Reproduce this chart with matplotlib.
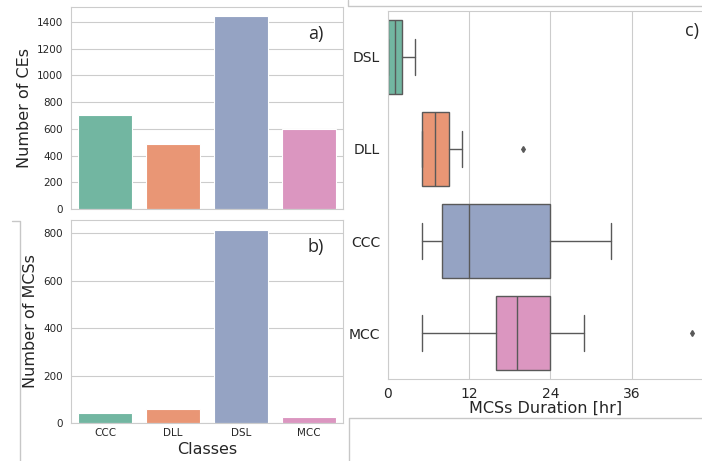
import numpy as np
import seaborn as sns
from matplotlib import pyplot as plt
from matplotlib.lines import Line2D

# data
classes = ["CCC", "DLL", "DSL", "MCC"]
n_ces = [700, 484, 1445, 598]
n_mcss = [42, 59, 812, 25]

# box plot stats (hours), order top -> bottom
box_classes = ["DSL", "DLL", "CCC", "MCC"]
whis_lo = [0, 5, 5, 5]
q1 = [0, 5, 8, 16]
med = [1, 7, 12, 19]
q3 = [2, 9, 24, 24]
whis_hi = [4, 11, 33, 29]
fliers = [[], [20], [], [45]]

sns.set_style("whitegrid")
pal = sns.color_palette("Set2", 4, desat=0.75)

W, H = 702, 461
fig = plt.figure(figsize=(W / 100, H / 100), dpi=100)

def rect(x0, y0, x1, y1):
    # pixel box -> figure fraction
    return [x0 / W, 1 - y1 / H, (x1 - x0) / W, (y1 - y0) / H]

ax_a = fig.add_axes(rect(71, 7, 343, 209))
ax_b = fig.add_axes(rect(71, 220, 343, 423))
ax_c = fig.add_axes(rect(388, 11, 704, 379))

x = np.arange(len(classes))
for ax, vals, top, lab in [(ax_a, n_ces, 1512, "Number of CEs"), (ax_b, n_mcss, 856, "Number of MCSs")]:
    ax.bar(x, vals, width=0.8, color=pal, edgecolor="white", linewidth=0.8, zorder=2)
    ax.set_xlim(-0.5, 3.5)
    ax.set_ylim(0, top)
    ax.set_ylabel(lab, fontsize=11.5, color="0.15", labelpad=4)
    ax.tick_params(axis="both", labelsize=7.5, colors="0.15", pad=2)
    ax.grid(axis="x", visible=False)
    for s in ax.spines.values():
        s.set_color("0.8")

ax_a.set_yticks(np.arange(0, 1401, 200))
ax_a.set_xticks(x)
ax_a.set_xticklabels([])
ax_b.set_yticks(np.arange(0, 801, 200))
ax_b.set_xticks(x)
ax_b.set_xticklabels(classes)
ax_b.tick_params(axis="x", pad=0)
ax_b.set_xlabel("Classes", fontsize=11.5, color="0.15", labelpad=3)

ax_a.text(0.90, 0.866, "a)", transform=ax_a.transAxes, fontsize=13, family="Open Sans", ha="center", va="center")
ax_b.text(0.90, 0.867, "b)", transform=ax_b.transAxes, fontsize=13, family="Open Sans", ha="center", va="center")

# box plot
stats = []
for i in range(len(box_classes)):
    stats.append(dict(whislo=whis_lo[i], q1=q1[i], med=med[i], q3=q3[i],
                      whishi=whis_hi[i], fliers=fliers[i], label=box_classes[i]))
bp = ax_c.bxp(stats, positions=np.arange(len(box_classes)), widths=0.8, vert=False,
              patch_artist=True, showfliers=True, manage_ticks=False,
              boxprops=dict(edgecolor="0.35", linewidth=1),
              medianprops=dict(color="0.35", linewidth=1),
              whiskerprops=dict(color="0.35", linewidth=1),
              capprops=dict(color="0.35", linewidth=1),
              flierprops=dict(marker="d", markersize=3, markerfacecolor="0.35", markeredgecolor="0.35"))
# seaborn colours boxes by position
for patch, c in zip(bp["boxes"], pal):
    patch.set_facecolor(c)
for cap in bp["caps"]:
    m = np.mean(cap.get_ydata())
    cap.set_ydata([m - 0.2, m + 0.2])

ax_c.set_ylim(3.5, -0.5)
ax_c.set_xlim(0, 46.7)
ax_c.set_yticks(np.arange(len(box_classes)))
ax_c.set_yticklabels(box_classes)
ax_c.set_xticks([0, 12, 24, 36])
ax_c.grid(axis="y", visible=False)
ax_c.tick_params(axis="both", labelsize=10, colors="0.15", pad=2)
ax_c.set_xlabel("MCSs Duration [hr]", fontsize=11.5, color="0.15", labelpad=0)
for s in ax_c.spines.values():
    s.set_color("0.8")
ax_c.text(0.962, 0.946, "c)", transform=ax_c.transAxes, fontsize=13, family="Open Sans", ha="center", va="center")

# leftover frame lines from the pasted panels
def fline(xs, ys):
    fig.add_artist(Line2D([v / W for v in xs], [1 - v / H for v in ys], color="0.78", lw=1))

fline([12, 20, 20], [221, 221, 461])
fline([348, 348, 702], [0, 6, 6])
fline([349, 349, 702], [461, 418, 418])

fig.savefig("out.png", dpi=100)
